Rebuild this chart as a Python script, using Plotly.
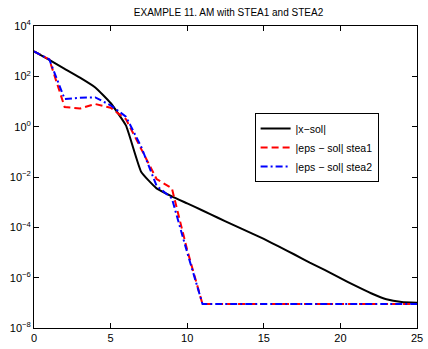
import plotly.graph_objects as go

k = list(range(26))
# log10 of errors
log_xsol = [2.99, 2.65, 2.3, 1.95, 1.56, 0.94, 0.05, -1.8, -2.45, -2.77, -3.05, -3.33, -3.62,
            -3.9, -4.18, -4.46, -4.77, -5.08, -5.4, -5.7, -6.02, -6.33, -6.62, -6.86, -6.97, -7.0]
log_stea1 = [2.99, 2.67, 0.78, 0.72, 0.9, 0.75, 0.3, -0.9, -2.08, -2.45, -4.9, -7.05, -7.05,
             -7.05, -7.05, -7.05, -7.05, -7.05, -7.05, -7.05, -7.05, -7.05, -7.05, -7.05, -7.05, -7.05]
log_stea2 = [2.99, 2.67, 1.1, 1.15, 1.16, 0.85, 0.4, -0.8, -2.35, -2.85, -5.0, -7.05, -7.05,
             -7.05, -7.05, -7.05, -7.05, -7.05, -7.05, -7.05, -7.05, -7.05, -7.05, -7.05, -7.05, -7.05]

xsol = [10 ** v for v in log_xsol]
stea1 = [10 ** v for v in log_stea1]
stea2 = [10 ** v for v in log_stea2]

ytick_vals = [1e4, 1e2, 1e0, 1e-2, 1e-4, 1e-6, 1e-8]
ytick_text = ["10<sup>4</sup>", "10<sup>2</sup>", "10<sup>0</sup>", "10<sup>−2</sup>",
              "10<sup>−4</sup>", "10<sup>−6</sup>", "10<sup>−8</sup>"]
xtick_vals = [0, 5, 10, 15, 20, 25]

fig = go.Figure()
fig.add_trace(go.Scatter(x=k, y=xsol, mode="lines", name="|x−sol|",
                         line=dict(color="black", width=2, shape="spline", smoothing=0.4)))
fig.add_trace(go.Scatter(x=k, y=stea1, mode="lines", name="|eps − sol| stea1",
                         line=dict(color="red", width=2, dash="7px,4px")))
fig.add_trace(go.Scatter(x=k, y=stea2, mode="lines", name="|eps − sol| stea2",
                         line=dict(color="blue", width=2, dash="7px,3px,2px,3px")))

axis_common = dict(showgrid=False, zeroline=False, showline=True, linecolor="black",
                   linewidth=1, mirror="ticks", ticks="inside", ticklen=5,
                   tickcolor="black", tickfont=dict(size=11, color="black"))

fig.update_layout(
    width=428, height=349,
    margin=dict(l=34, r=5, t=26, b=17),
    paper_bgcolor="white", plot_bgcolor="white",
    font=dict(family="Liberation Sans, Arial, sans-serif", color="black"),
    title=dict(text="EXAMPLE 11. AM with STEA1 and STEA2", x=0.534, xanchor="center",
               y=0.965, yanchor="middle", font=dict(size=10, color="black")),
    xaxis=dict(range=[0, 25], tickvals=xtick_vals, ticklabeloverflow="allow", **axis_common),
    yaxis=dict(type="log", range=[-8, 4], tickvals=ytick_vals, ticktext=ytick_text,
               **axis_common),
    legend=dict(x=0.576, y=0.712, xanchor="left", yanchor="top",
                bordercolor="black", borderwidth=1, bgcolor="white",
                font=dict(size=10.5, color="black"), tracegroupgap=0),
    showlegend=True,
)

fig.write_html("out.html")
